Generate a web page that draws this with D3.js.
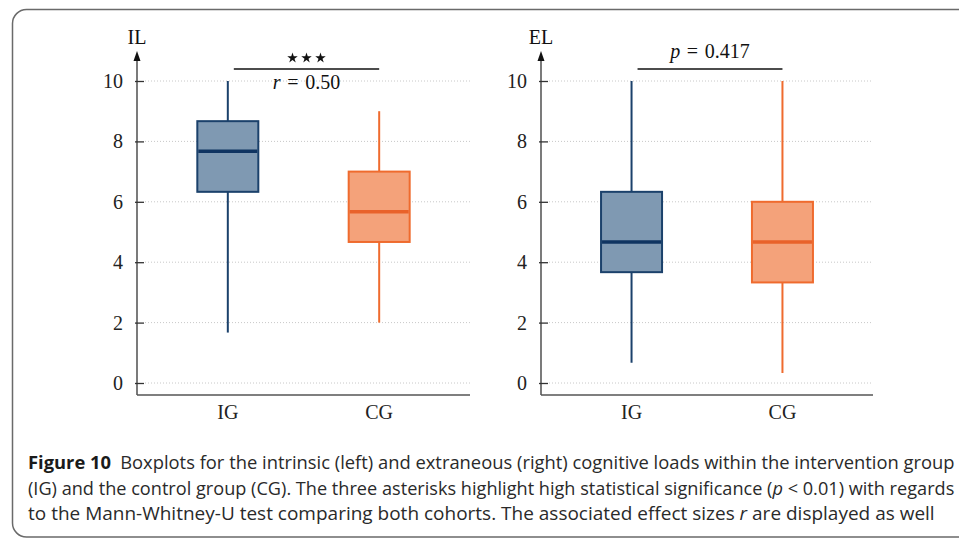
<!DOCTYPE html>
<html>
<head>
<meta charset="utf-8">
<script src="https://cdn.jsdelivr.net/npm/d3@7"></script>
<style>
  body { margin: 0; background: #fff; }
  svg { display: block; }
</style>
</head>
<body>
<svg width="959" height="541"></svg>
<script>
// data
var groups = ["IG", "CG"];
var yTicks = [0, 2, 4, 6, 8, 10];

var ilMin = [1.67, 2.0];
var ilQ1  = [6.33, 4.67];
var ilMed = [7.67, 5.67];
var ilQ3  = [8.67, 7.0];
var ilMax = [10, 9.0];

var elMin = [0.67, 0.33];
var elQ1  = [3.67, 3.33];
var elMed = [4.67, 4.67];
var elQ3  = [6.33, 6.0];
var elMax = [10, 10];

var fills   = ["#7f99b2", "#f4a27a"];
var strokes = ["#1b416b", "#ef6b2e"];
var medians = ["#0f3461", "#e9622a"];

var svg = d3.select("svg");
var serif = "'Liberation Serif', 'DejaVu Serif', serif";

// frame
svg.append("rect")
  .attr("x", 12.5).attr("y", 9.5)
  .attr("width", 1000).attr("height", 527.5)
  .attr("rx", 14)
  .attr("fill", "none")
  .attr("stroke", "#6a6a6a")
  .attr("stroke-width", 1.5);

var y = d3.scaleLinear().domain([0, 10]).range([383, 81]);

function panel(x0, x1, label, mins, q1s, meds, q3s, maxs) {
  var g = svg.append("g");
  var x = d3.scalePoint().domain(groups).range([x0, x1]).padding(0.6);
  var boxW = 61;

  // dotted grid
  g.append("g").selectAll("line")
    .data(yTicks)
    .enter().append("line")
    .attr("x1", x0 + 8).attr("x2", x1)
    .attr("y1", function(d) { return y(d); })
    .attr("y2", function(d) { return y(d); })
    .attr("stroke", "#c8c8c8")
    .attr("stroke-width", 1)
    .attr("stroke-dasharray", "1,2");

  // y axis, ticks cross the line
  var ax = g.append("g")
    .attr("transform", "translate(" + x0 + ",0)")
    .call(d3.axisLeft(y).tickValues(yTicks).tickSize(0).tickPadding(14));
  ax.select(".domain").remove();
  ax.selectAll(".tick line")
    .attr("x1", -2).attr("x2", 7)
    .attr("stroke", "#333").attr("stroke-width", 1.3);
  ax.selectAll(".tick text")
    .attr("font-family", serif)
    .attr("font-size", 20)
    .attr("fill", "#222");

  g.append("line")
    .attr("x1", x0).attr("x2", x0)
    .attr("y1", 395).attr("y2", 58)
    .attr("stroke", "#333").attr("stroke-width", 1.3);
  g.append("path")
    .attr("d", "M" + x0 + ",51 L" + (x0 - 3.5) + ",61 L" + (x0 + 3.5) + ",61 Z")
    .attr("fill", "#111");
  g.append("text")
    .attr("x", x0).attr("y", 44)
    .attr("text-anchor", "middle")
    .attr("font-family", serif)
    .attr("font-size", 20)
    .attr("fill", "#111")
    .text(label);

  // x axis line and labels
  g.append("line")
    .attr("x1", x0).attr("x2", x1)
    .attr("y1", 395).attr("y2", 395)
    .attr("stroke", "#555").attr("stroke-width", 1.5);
  g.selectAll(".xlab")
    .data(groups)
    .enter().append("text")
    .attr("x", function(d) { return x(d); })
    .attr("y", 419)
    .attr("text-anchor", "middle")
    .attr("font-family", serif)
    .attr("font-size", 20)
    .attr("fill", "#222")
    .text(function(d) { return d; });

  // boxes
  var data = groups.map(function(d, i) {
    return {g: d, i: i, min: mins[i], q1: q1s[i], med: meds[i], q3: q3s[i], max: maxs[i]};
  });
  var b = g.selectAll(".box").data(data).enter().append("g");
  b.append("line")
    .attr("x1", function(d) { return x(d.g); })
    .attr("x2", function(d) { return x(d.g); })
    .attr("y1", function(d) { return y(d.min); })
    .attr("y2", function(d) { return y(d.max); })
    .attr("stroke", function(d) { return strokes[d.i]; })
    .attr("stroke-width", 2);
  b.append("rect")
    .attr("x", function(d) { return x(d.g) - boxW / 2; })
    .attr("width", boxW)
    .attr("y", function(d) { return y(d.q3); })
    .attr("height", function(d) { return y(d.q1) - y(d.q3); })
    .attr("fill", function(d) { return fills[d.i]; })
    .attr("stroke", function(d) { return strokes[d.i]; })
    .attr("stroke-width", 2);
  b.append("line")
    .attr("x1", function(d) { return x(d.g) - boxW / 2 + 1; })
    .attr("x2", function(d) { return x(d.g) + boxW / 2 - 1; })
    .attr("y1", function(d) { return y(d.med); })
    .attr("y2", function(d) { return y(d.med); })
    .attr("stroke", function(d) { return medians[d.i]; })
    .attr("stroke-width", 3.5);

  // significance bracket
  var sx0 = x(groups[0]) + 6, sx1 = x(groups[1]);
  g.append("line")
    .attr("x1", sx0).attr("x2", sx1)
    .attr("y1", 69).attr("y2", 69)
    .attr("stroke", "#111").attr("stroke-width", 1.3);
  return {g: g, cx: (sx0 + sx1) / 2};
}

function mathText(g, cx, yy, sym, rest) {
  var t = g.append("text")
    .attr("x", cx).attr("y", yy)
    .attr("text-anchor", "middle")
    .attr("font-family", serif)
    .attr("font-size", 20)
    .attr("fill", "#111");
  t.append("tspan").attr("font-style", "italic").text(sym);
  t.append("tspan").text("\u2004=\u2004" + rest);
}

var left = panel(137, 470, "IL", ilMin, ilQ1, ilMed, ilQ3, ilMax);
[-14, 0, 14].forEach(function(dx) {
  left.g.append("path")
    .attr("d", d3.symbol().type(d3.symbolStar).size(34)())
    .attr("transform", "translate(" + (left.cx + dx) + ",58)")
    .attr("fill", "#111");
});
mathText(left.g, left.cx, 89, "r", "0.50");

var right = panel(541, 873, "EL", elMin, elQ1, elMed, elQ3, elMax);
mathText(right.g, right.cx, 58, "p", "0.417");

// caption: each line squeezed to the width it has in the figure
var sans = "'Open Sans', 'Noto Sans', sans-serif";
var cap = svg.append("g")
  .attr("font-family", sans)
  .attr("font-size", 18)
  .attr("fill", "#2a2a2a");

function capLine(yy, width, parts) {
  var t = cap.append("text").attr("x", 0).attr("y", 0);
  parts.forEach(function(p) {
    var s = t.append("tspan").text(p[0]);
    if (p[1] === "b") s.attr("font-weight", "bold").attr("fill", "#1a1a1a");
    if (p[1] === "i") s.attr("font-style", "italic");
  });
  var k = width / t.node().getComputedTextLength();
  t.attr("transform", "translate(28," + yy + ") scale(" + k + ",1)");
  return t;
}

capLine(469, 927, [["Figure 10", "b"], ["\u2002Boxplots for the intrinsic (left) and extraneous (right) cognitive loads within the intervention group"]]);
capLine(494.5, 927, [["(IG) and the control group (CG). The three asterisks highlight high statistical significance ("], ["p", "i"], [" < 0.01) with regards"]]);
capLine(520, 907, [["to the Mann-Whitney-U test comparing both cohorts. The associated effect sizes "], ["r", "i"], [" are displayed as well"]]);
</script>
</body>
</html>
